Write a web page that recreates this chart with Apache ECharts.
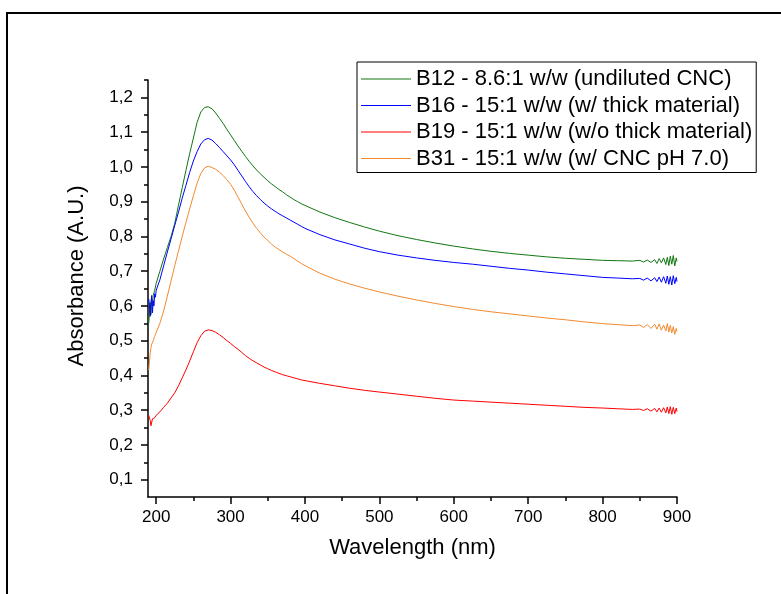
<!DOCTYPE html>
<html>
<head>
<meta charset="utf-8">
<script src="https://cdn.jsdelivr.net/npm/echarts@6/dist/echarts.min.js"></script>
<style>html,body{margin:0;padding:0;background:#fff}#c{width:781px;height:594px}</style>
</head>
<body>
<div id="c"></div>
<script>
const wavelengths = [190,191,192,193,194,195,196,197,198,199,200,
 205,210,215,220,225,230,235,240,245,250,255,260,265,270,275,280,285,290,295,300,
 305,310,315,320,325,330,335,340,345,350,355,360,365,370,375,380,385,390,395,400,
 420,440,460,480,500,
 525,550,575,600,625,650,675,700,725,750,775,800,
 820,840,850,855,860,865,870,873,876,879,882,885,887,889,891,893,895,897,899,900];

const b12 = [0.55,0.58,0.61,0.575,0.62,0.60,0.63,0.625,0.645,0.64,0.665,
 0.70,0.735,0.768,0.80,0.838,0.89,0.94,0.99,1.038,1.083,1.128,1.158,1.171,1.173,1.167,1.155,1.14,1.125,1.108,1.092,
 1.076,1.06,1.045,1.03,1.016,1.003,0.991,0.98,0.97,0.96,0.951,0.943,0.935,0.928,0.92,0.913,0.906,0.9,0.894,0.889,
 0.87,0.854,0.84,0.827,0.815,
 0.802,0.791,0.781,0.772,0.764,0.757,0.751,0.746,0.741,0.737,0.734,0.731,
 0.73,0.729,0.731,0.726,0.732,0.725,0.733,0.722,0.736,0.724,0.738,0.719,0.74,0.716,0.743,0.72,0.745,0.715,0.738,0.728];

const b16 = [0.62,0.60,0.57,0.61,0.63,0.58,0.615,0.60,0.635,0.625,0.645,
 0.675,0.715,0.755,0.793,0.832,0.87,0.91,0.947,0.984,1.017,1.044,1.066,1.078,1.082,1.077,1.067,1.056,1.044,1.032,1.02,
 1.006,0.99,0.974,0.958,0.943,0.929,0.917,0.906,0.896,0.887,0.879,0.872,0.865,0.859,0.853,0.847,0.841,0.835,0.829,0.823,
 0.805,0.79,0.778,0.766,0.756,
 0.746,0.738,0.731,0.725,0.72,0.714,0.708,0.703,0.697,0.692,0.687,0.682,
 0.68,0.678,0.679,0.674,0.68,0.672,0.681,0.67,0.683,0.668,0.684,0.665,0.686,0.662,0.684,0.66,0.687,0.664,0.682,0.67];

const b19 = [0.285,0.28,0.27,0.255,0.25,0.275,0.28,0.27,0.278,0.283,0.285,
 0.295,0.308,0.32,0.335,0.35,0.37,0.393,0.416,0.441,0.468,0.494,0.514,0.527,0.531,0.529,0.524,0.517,0.509,0.5,0.492,
 0.483,0.475,0.466,0.457,0.449,0.442,0.436,0.43,0.424,0.419,0.414,0.41,0.406,0.402,0.399,0.396,0.393,0.39,0.387,0.385,
 0.377,0.37,0.363,0.357,0.352,
 0.346,0.34,0.334,0.329,0.326,0.323,0.32,0.317,0.314,0.311,0.308,0.306,
 0.304,0.302,0.303,0.299,0.304,0.297,0.305,0.295,0.306,0.294,0.307,0.292,0.309,0.29,0.31,0.288,0.308,0.29,0.306,0.296];

const b31 = [0.415,0.44,0.465,0.48,0.49,0.495,0.5,0.505,0.512,0.518,0.522,
 0.55,0.585,0.628,0.672,0.716,0.758,0.8,0.84,0.879,0.917,0.953,0.981,0.997,1.002,0.998,0.993,0.985,0.975,0.963,0.95,
 0.933,0.913,0.893,0.873,0.855,0.838,0.823,0.81,0.798,0.788,0.778,0.769,0.762,0.755,0.749,0.743,0.736,0.729,0.722,0.716,
 0.694,0.677,0.663,0.651,0.64,
 0.628,0.617,0.607,0.598,0.59,0.583,0.577,0.571,0.565,0.56,0.554,0.549,
 0.546,0.543,0.545,0.538,0.546,0.535,0.547,0.533,0.548,0.53,0.545,0.528,0.549,0.525,0.544,0.522,0.54,0.518,0.535,0.526];

const seriesNames = ['B12 - 8.6:1 w/w (undiluted CNC)','B16 - 15:1 w/w (w/ thick material)','B19 - 15:1 w/w (w/o thick material)','B31 - 15:1 w/w (w/ CNC pH 7.0)'];
const seriesColors = ['#117711','#0000ff','#ff0000','#f28a2e'];
const xMajorTicks = [200,300,400,500,600,700,800,900];
const xMinorTicks = [250,350,450,550,650,750,850];
const yMajorTicks = [0.1,0.2,0.3,0.4,0.5,0.6,0.7,0.8,0.9,1.0,1.1,1.2];
const yMinorTicks = [0.15,0.25,0.35,0.45,0.55,0.65,0.75,0.85,0.95,1.05,1.15,1.25];

const FF = 'Liberation Sans, Arial, sans-serif';
const allData = [b12,b16,b19,b31];

const chart = echarts.init(document.getElementById('c'), null, {renderer:'canvas'});
const axisLineStyle = {color:'#000', width:1.5};
chart.setOption({
  animation:false,
  backgroundColor:'#fff',
  grid:{left:148,right:104,top:80,bottom:97,containLabel:false},
  graphic:[
    {type:'rect', z:-10, shape:{x:7,y:13,width:800,height:620}, style:{fill:'none',stroke:'#000',lineWidth:2}},
    {type:'text', x:77, y:276, rotation:Math.PI/2, style:{text:'Absorbance (A.U.)', fontSize:22, fontFamily:FF, fill:'#000', align:'center', verticalAlign:'middle'}}
  ],
  legend:{
    orient:'vertical', left:357, top:62, padding:[6,4,3,4],
    itemWidth:50, itemHeight:1, icon:'rect', itemGap:4.5,
    borderColor:'#000', borderWidth:1, backgroundColor:'#fff',
    textStyle:{fontSize:22, fontFamily:FF, color:'#000', lineHeight:22},
    data:seriesNames
  },
  xAxis:[
    {type:'value', min:189, max:900,
     axisLine:{lineStyle:axisLineStyle},
     axisTick:{customValues:xMajorTicks, length:7, lineStyle:{color:'#000',width:1.5}},
     axisLabel:{customValues:xMajorTicks, margin:12, fontSize:17, fontFamily:FF, color:'#000'},
     splitLine:{show:false},
     name:'Wavelength (nm)', nameLocation:'middle', nameGap:40,
     nameTextStyle:{fontSize:22, fontFamily:FF, color:'#000'}
    },
    {type:'value', min:189, max:900, position:'bottom',
     axisLine:{show:false},
     axisTick:{customValues:xMinorTicks, length:4, lineStyle:{color:'#000',width:1.5}},
     axisLabel:{show:false}, splitLine:{show:false}
    }
  ],
  yAxis:[
    {type:'value', min:0.05, max:1.25,
     axisLine:{show:true, lineStyle:axisLineStyle},
     axisTick:{show:true, customValues:yMajorTicks, length:7, lineStyle:{color:'#000',width:1.5}},
     axisLabel:{customValues:yMajorTicks, margin:15, fontSize:17, fontFamily:FF, color:'#000',
       formatter:function(v){return v.toFixed(1).replace('.',',');}},
     splitLine:{show:false}
    },
    {type:'value', min:0.05, max:1.25, position:'left',
     axisLine:{show:false},
     axisTick:{show:true, customValues:yMinorTicks, length:4, lineStyle:{color:'#000',width:1.5}},
     axisLabel:{show:false}, splitLine:{show:false}
    }
  ],
  series: seriesNames.map(function(name,i){
    return {
      name:name, type:'line', xAxisIndex:0, yAxisIndex:0,
      symbol:'none', showSymbol:false,
      color:seriesColors[i],
      lineStyle:{width:1, color:seriesColors[i]},
      data: wavelengths.map(function(w,j){return [w, allData[i][j]];})
    };
  })
});
</script>
</body>
</html>
